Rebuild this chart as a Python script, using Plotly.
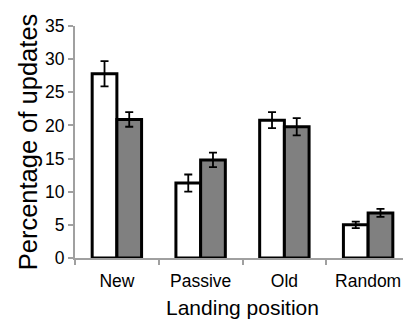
import plotly.graph_objects as go

categories = ["New", "Passive", "Old", "Random"]
series_a = [27.8, 11.3, 20.8, 5.0]
err_a = [1.9, 1.3, 1.2, 0.5]
series_b = [20.9, 14.8, 19.8, 6.8]
err_b = [1.1, 1.1, 1.3, 0.6]
y_ticks = [0, 5, 10, 15, 20, 25, 30, 35]

fig = go.Figure()
fig.add_trace(go.Bar(x=categories, y=series_a, marker=dict(color="white", line=dict(color="black", width=3)),
                     error_y=dict(type="data", array=err_a, color="black", thickness=1.8, width=4)))
fig.add_trace(go.Bar(x=categories, y=series_b, marker=dict(color="#808080", line=dict(color="black", width=3)),
                     error_y=dict(type="data", array=err_b, color="black", thickness=1.8, width=4)))

font = "Liberation Sans, Arial, sans-serif"
fig.update_layout(
    width=411, height=322, barmode="group", bargap=0.41, bargroupgap=0,
    showlegend=False, plot_bgcolor="white", paper_bgcolor="white",
    margin=dict(l=67, r=9, t=8, b=72),
    font=dict(family=font, color="black"),
)
fig.update_xaxes(showline=True, linecolor="#a0a0a0", linewidth=2, ticks="outside", tickson="boundaries",
                 tickcolor="#a0a0a0", ticklen=5, tickwidth=2, tickfont=dict(size=17.5),
                 ticklabelstandoff=6,
                 title=dict(text="Landing position", font=dict(size=21), standoff=10))
fig.update_yaxes(range=[0, 35], tickvals=y_ticks, showline=True, linecolor="#a0a0a0", linewidth=2,
                 ticks="outside", tickcolor="#a0a0a0", ticklen=5, tickwidth=2, showgrid=False,
                 zeroline=False, tickfont=dict(size=17.5), ticklabeloverflow="allow",
                 title=dict(text="Percentage of updates", font=dict(size=25.5), standoff=0))
fig.write_html("out.html")
